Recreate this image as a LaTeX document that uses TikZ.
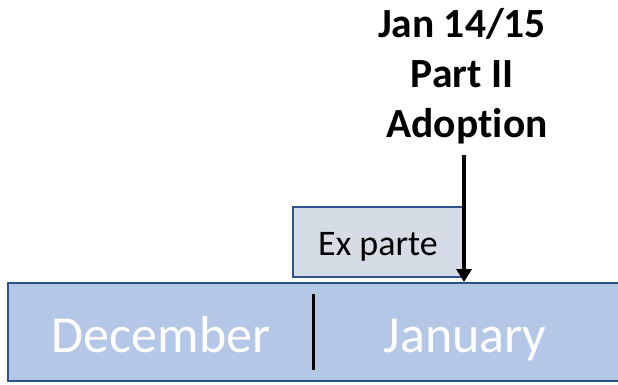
\documentclass[tikz,border=0pt]{standalone}
\usepackage{fontspec}
\setmainfont{Carlito}[Ligatures=NoCommon]
\usetikzlibrary{arrows.meta}
\definecolor{barfill}{HTML}{B4C7E7}
\definecolor{barline}{HTML}{2F528F}
\definecolor{exfill}{HTML}{D6DCE5}
\tikzset{
  monthbar/.style={draw=barline, line width=2pt, fill=barfill, inner sep=0pt,
    minimum width=617pt, minimum height=98pt},
  exbox/.style={draw=barline, line width=1.6pt, fill=exfill, inner sep=0pt,
    minimum width=170pt, minimum height=70pt, text height=30pt, text depth=4pt,
    font=\fontsize{36}{40}\selectfont},
  monthtxt/.style={anchor=base, text=white, inner sep=0pt, font=\fontsize{52}{60}\selectfont},
  titletxt/.style={anchor=base, inner sep=0pt, font=\fontsize{41.5}{50}\selectfont\bfseries},
  divline/.style={line width=3pt, black},
  arr/.style={line width=4pt, black, -{Triangle[width=15pt,length=13pt]}}
}
\begin{document}
\begin{tikzpicture}[x=1pt,y=1pt]
\useasboundingbox (0,0) rectangle (618,384);
\clip (0,0) rectangle (618,384);
\node[monthbar] (bar) at (316.5,52) {};
\node[exbox] (ex) at (378,142) {Ex parte};
\node[monthtxt] (dec) at (161,32) {December};
\node[monthtxt] (jan) at (465,32) {January};
\coordinate (divtop) at (313,90);
\coordinate (divbot) at (313,14);
\draw[divline] (divtop) -- (divbot);
\node[titletxt] (t1) at (462,347) {Jan 14/15};
\node[titletxt] (t2) at (462,297) {Part II};
\node[titletxt] (t3) at (467,247) {Adoption};
\coordinate (arrtop) at (464,229);
\draw[arr] (arrtop) -- (arrtop |- bar.north);
\end{tikzpicture}
\end{document}
